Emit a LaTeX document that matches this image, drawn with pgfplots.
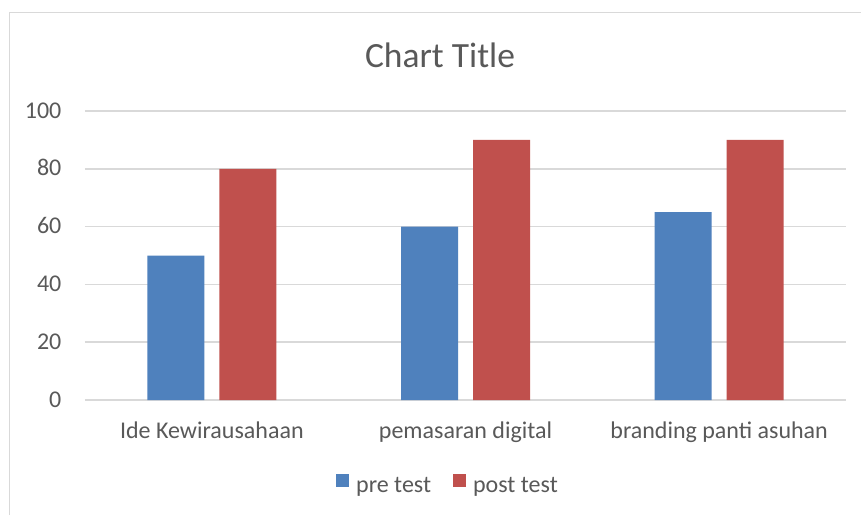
\documentclass[border=0pt]{standalone}
\usepackage{fontspec}
\setmainfont{Carlito}
\usepackage{pgfplots}
\pgfplotsset{compat=1.18}
\definecolor{barblue}{HTML}{4F81BD}
\definecolor{barred}{HTML}{C0504D}
\definecolor{txtgray}{HTML}{595959}
\definecolor{gridgray}{HTML}{D9D9D9}
\begin{document}
\begin{tikzpicture}
\useasboundingbox (0,0) rectangle (645.75pt,386.25pt);
\fill[white] (0,0) rectangle (645.75pt,386.25pt);
\draw[gridgray, line width=1pt] (7.1pt,0) -- (7.1pt,376.9pt) -- (645.75pt,376.9pt);
\begin{axis}[
  at={(63.75pt,86.25pt)}, anchor=south west,
  scale only axis,
  width=570.75pt, height=216.75pt,
  xmin=-0.5, xmax=2.5,
  ymin=0, ymax=100,
  ytick={0,20,...,100},
  xtick={0,1,2},
  xticklabels={Ide Kewirausahaan, pemasaran digital, branding panti asuhan},
  axis line style={draw=none},
  tick style={draw=none},
  major tick length=0pt,
  ymajorgrids,
  major grid style={draw=gridgray, line width=1.1pt},
  /pgf/number format/assume math mode=true,
  ticklabel style={font=\fontsize{18pt}{21pt}\selectfont, text=txtgray, inner sep=0pt},
  yticklabel style={anchor=base east, xshift=-17.5pt, yshift=-5.3pt},
  xticklabel style={anchor=base, yshift=-28.5pt},
  title={Chart Title},
  every axis title/.style={at={(0.4665,1.1512)}, anchor=base, font=\fontsize{26.6pt}{30pt}\selectfont, text=txtgray, inner sep=0pt},
  legend columns=2,
  legend style={at={(0.4757,-0.2907)}, anchor=center, draw=none, fill=none, inner sep=0pt,
    font=\fontsize{18pt}{21pt}\selectfont, text=txtgray,
    nodes={inner sep=0pt},
    /tikz/every odd column/.append style={column sep=5.25pt},
    /tikz/every even column/.append style={column sep=16.5pt}},
  clip=false,
]
\addplot[ybar, bar width=42.75pt, bar shift=-27pt, fill=barblue, draw=none,
  legend image code/.code={\fill[barblue] (0pt,-0.5pt) rectangle (9.75pt,9.25pt);}]
  coordinates {(0,50) (1,60) (2,65)};
\addlegendentry{pre test}
\addplot[ybar, bar width=42.75pt, bar shift=27pt, fill=barred, draw=none,
  legend image code/.code={\fill[barred] (0pt,-0.5pt) rectangle (9.75pt,9.25pt);}]
  coordinates {(0,80) (1,90) (2,90)};
\addlegendentry{post test}
\end{axis}
\end{tikzpicture}
\end{document}
